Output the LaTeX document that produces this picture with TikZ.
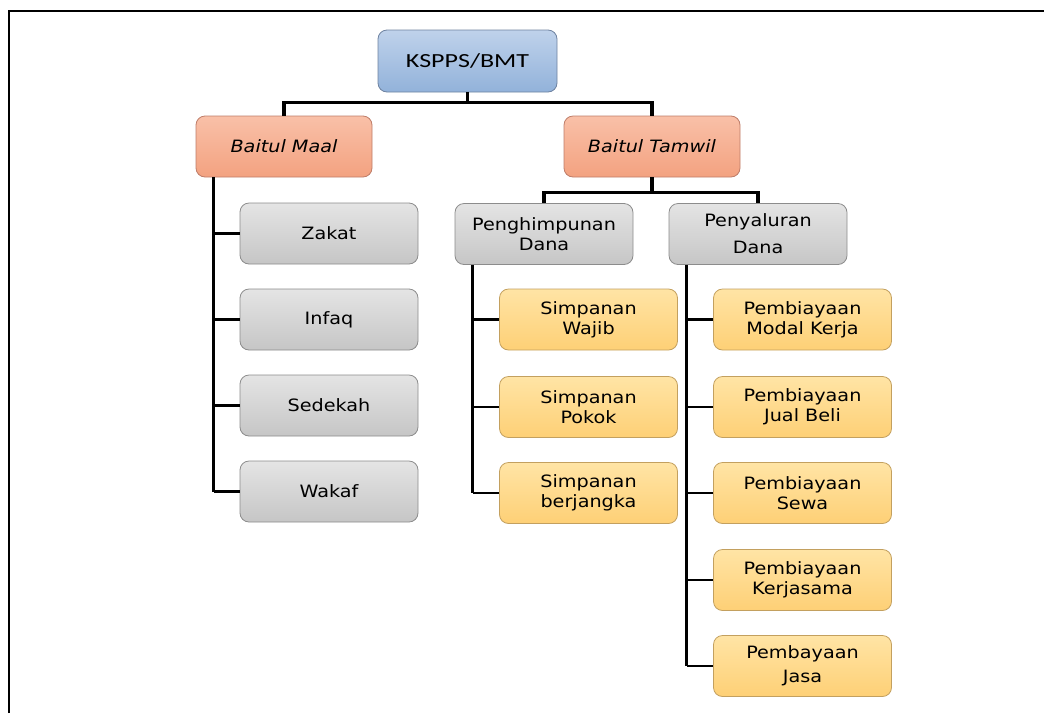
\documentclass[tikz,border=0pt]{standalone}
\usepackage{fontspec}
\setmainfont{DejaVu Sans}[FakeStretch=1.13]
\newfontfamily\titlefont{Carlito}[FakeStretch=1.3]
\usetikzlibrary{shadings}

\tikzset{
    unit/.style={draw, rounded corners=9pt, line width=0.8pt, align=center,
        minimum width=178pt, minimum height=61pt, inner sep=2pt,
        font=\fontsize{17}{20}\selectfont},
    topunit/.style={unit, draw=blueline, top color=bluetop, bottom color=bluebot,
        font=\titlefont\fontsize{20}{22}\selectfont},
    mainunit/.style={unit, minimum width=176pt, draw=orangeline, top color=orangetop, bottom color=orangebot,
        font=\fontsize{17}{20}\selectfont\itshape},
    subunit/.style={unit, draw=grayline, top color=graytop, bottom color=graybot},
    product/.style={unit, draw=yellowline, top color=yellowtop, bottom color=yellowbot},
    link/.style={line width=3.2pt},
    branch/.style={line width=2.6pt}
}

\begin{document}
\begin{tikzpicture}[x=1pt,y=-1pt]
    % Define colors
    \definecolor{bluetop}{RGB}{191,210,235}
    \definecolor{bluebot}{RGB}{146,178,218}
    \definecolor{blueline}{RGB}{110,130,160}
    \definecolor{orangetop}{RGB}{249,192,168}
    \definecolor{orangebot}{RGB}{243,162,128}
    \definecolor{orangeline}{RGB}{190,125,105}
    \definecolor{graytop}{RGB}{228,228,228}
    \definecolor{graybot}{RGB}{198,198,198}
    \definecolor{grayline}{RGB}{140,140,140}
    \definecolor{yellowtop}{RGB}{255,228,165}
    \definecolor{yellowbot}{RGB}{254,208,118}
    \definecolor{yellowline}{RGB}{195,160,95}

    \useasboundingbox (0,0) rectangle (1044,713);

    % Frame (top and left edge)
    \draw[line width=2.5pt] (9,713) -- (9,11) -- (1044,11);

    % Top unit and its two parts
    \node[topunit, minimum width=179pt, minimum height=62pt] (bmt) at (467.5,61) {KSPPS/BMT};
    \node[mainunit] (maal) at (284,146.5) {Baitul Maal};
    \node[mainunit] (tamwil) at (652,146.5) {Baitul Tamwil};

    % Baitul Maal
    \node[subunit] (zakat) at (329,233.5) {Zakat};
    \node[subunit] (infaq) at (329,319.5) {Infaq};
    \node[subunit] (sedekah) at (329,405.5) {Sedekah};
    \node[subunit] (wakaf) at (329,491.5) {Wakaf};

    % Baitul Tamwil
    \node[subunit] (himpun) at (544,234) {Penghimpunan\\Dana};
    \node[subunit] (salur) at (758,234) {Penyaluran\\[7pt]Dana};

    \node[product] (wajib) at (588.5,319.5) {Simpanan\\Wajib};
    \node[product] (pokok) at (588.5,407) {Simpanan\\Pokok};
    \node[product] (jangka) at (588.5,493) {Simpanan\\berjangka};

    \node[product] (modal) at (802.5,319.5) {Pembiayaan\\Modal Kerja};
    \node[product] (jualbeli) at (802.5,407) {Pembiayaan\\Jual Beli};
    \node[product] (sewa) at (802.5,493) {Pembiayaan\\Sewa};
    \node[product] (kerjasama) at (802.5,580) {Pembiayaan\\Kerjasama};
    \node[product] (jasa) at (802.5,666) {Pembayaan\\[4pt]Jasa};

    % Connectors
    \draw[link] (bmt.south) -- ++(0,10) -| (maal.north);
    \draw[link] (bmt.south) -- ++(0,10) -| (tamwil.north);
    \draw[link] (tamwil.south) -- ++(0,15) -| (himpun.north);
    \draw[link] (tamwil.south) -- ++(0,15) -| (salur.north);

    \draw[link] ([xshift=18pt]maal.south west) -- ([xshift=18pt]maal.south west |- wakaf.west);
    \foreach \c in {zakat,infaq,sedekah,wakaf}
        \draw[branch] ([xshift=18pt]maal.south west |- \c.west) -- (\c.west);

    \draw[link] ([xshift=18pt]himpun.south west) -- ([xshift=18pt]himpun.south west |- jangka.west);
    \foreach \c in {wajib,pokok,jangka}
        \draw[branch] ([xshift=18pt]himpun.south west |- \c.west) -- (\c.west);

    \draw[link] ([xshift=18pt]salur.south west) -- ([xshift=18pt]salur.south west |- jasa.west);
    \foreach \c in {modal,jualbeli,sewa,kerjasama,jasa}
        \draw[branch] ([xshift=18pt]salur.south west |- \c.west) -- (\c.west);
\end{tikzpicture}
\end{document}
